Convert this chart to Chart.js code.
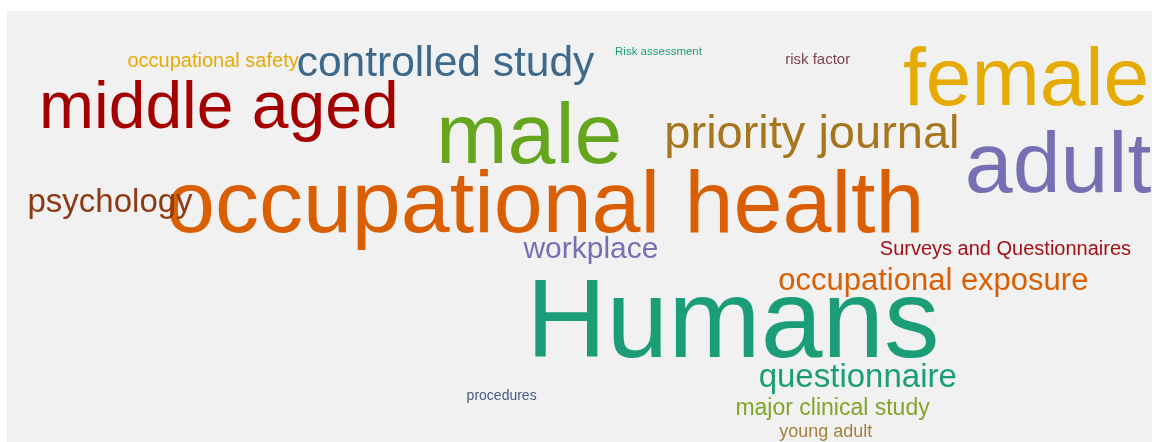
<!DOCTYPE html>
<html>
<head>
<meta charset="utf-8">
<script src="https://cdn.jsdelivr.net/npm/chart.js@4/dist/chart.umd.min.js"></script>
<style>
  html, body { margin: 0; padding: 0; background: #ffffff; }
  #wrap { position: absolute; left: 7px; top: 11px; width: 1145px; height: 431px; background: #f1f1f1; }
</style>
</head>
<body>
<div id="wrap"><canvas id="cloud"></canvas></div>
<script>
// words of the cloud and their weights (weight = font size in px)
const words = [
  'Humans', 'occupational health', 'male', 'adult', 'female', 'middle aged',
  'priority journal', 'controlled study', 'questionnaire', 'psychology',
  'occupational exposure', 'workplace', 'major clinical study',
  'occupational safety', 'Surveys and Questionnaires', 'young adult',
  'risk factor', 'procedures', 'Risk assessment'
];
const weights = [111, 88, 86, 86, 82, 66, 47, 42.5, 33, 33, 31, 30, 23, 20, 20, 18, 15, 14, 11.5];
// layout position of each word (0-100 on both axes, y measured downward to baseline)
const posX = [63.4, 47.0, 45.6, 91.8, 89.0, 18.5, 70.3, 38.3, 74.3, 9.0, 80.9, 51.0, 72.1, 18.0, 87.2, 71.5, 70.8, 43.2, 56.9];
const posY = [80.3, 51.3, 35.3, 42.0, 21.8, 27.2, 31.8, 15.1, 87.2, 46.6, 64.7, 57.3, 93.7, 13.0, 56.6, 98.8, 12.3, 90.3, 10.2];
const colors = [
  '#1b9e77', '#d95f02', '#66a61e', '#7570b3', '#e6ab02', '#a50000',
  '#a6761d', '#3d6a8c', '#1b9e77', '#8c3a14',
  '#d95f02', '#7570b3', '#7fa52a',
  '#e6ab02', '#a50f15', '#a6803a',
  '#80424f', '#4a5a85', '#1b9e77'
];

const points = words.map((w, i) => ({ x: posX[i], y: posY[i] }));

// draws each word at its point
const wordPlugin = {
  id: 'words',
  afterDatasetsDraw(chart) {
    const ctx = chart.ctx;
    const meta = chart.getDatasetMeta(0);
    ctx.save();
    ctx.textAlign = 'center';
    ctx.textBaseline = 'alphabetic';
    meta.data.forEach((pt, i) => {
      ctx.font = weights[i] + 'px "Liberation Sans", Arial, sans-serif';
      ctx.fillStyle = colors[i];
      ctx.fillText(words[i], pt.x, pt.y);
    });
    ctx.restore();
  }
};

new Chart(document.getElementById('cloud'), {
  type: 'scatter',
  data: {
    datasets: [{
      data: points,
      pointRadius: 0,
      pointHoverRadius: 0
    }]
  },
  options: {
    responsive: true,
    maintainAspectRatio: false,
    animation: false,
    layout: { padding: 0 },
    plugins: { legend: { display: false }, tooltip: { enabled: false } },
    scales: {
      x: { type: 'linear', min: 0, max: 100, display: false },
      y: { type: 'linear', min: 0, max: 100, reverse: true, display: false }
    }
  },
  plugins: [wordPlugin]
});
</script>
</body>
</html>
